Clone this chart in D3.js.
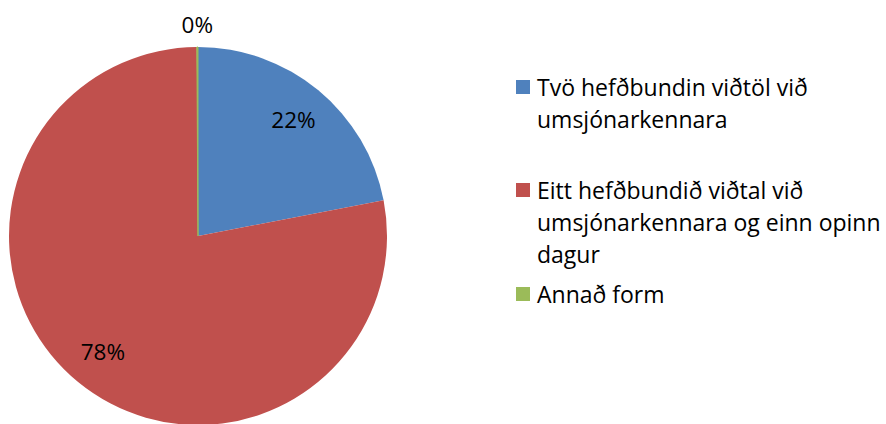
<!DOCTYPE html>
<html>
<head>
<meta charset="utf-8">
<script src="https://cdn.jsdelivr.net/npm/d3@7"></script>
<style>
  body { margin: 0; background: #fff; }
  text { font-family: 'Open Sans', sans-serif; fill: #000; }
</style>
</head>
<body>
<script>
const width = 886;
const height = 424;

// data
const categories = [
  'Tvö hefðbundin viðtöl við umsjónarkennara',
  'Eitt hefðbundið viðtal við umsjónarkennara og einn opinn dagur',
  'Annað form'
];
const legendLines = [
  ['Tvö hefðbundin viðtöl við', 'umsjónarkennara'],
  ['Eitt hefðbundið viðtal við', 'umsjónarkennara og einn opinn', 'dagur'],
  ['Annað form']
];
const values = [22, 78, 0.1];
const colors = ['#4F81BD', '#C0504D', '#9BBB59'];

const cx = 198;
const cy = 236;
const radius = 189;

const svg = d3.select('body').append('svg')
  .attr('width', width)
  .attr('height', height);

const pie = d3.pie().sort(null).value(d => d);
const arcs = pie(values);
const total = d3.sum(values);

const arc = d3.arc().innerRadius(0).outerRadius(radius);
const labelArc = d3.arc().innerRadius(150).outerRadius(150);

const g = svg.append('g')
  .attr('transform', `translate(${cx},${cy})`);

g.selectAll('path')
  .data(arcs)
  .enter().append('path')
    .attr('d', arc)
    .style('fill', (d, i) => colors[i])
    .style('stroke', (d, i) => i === 2 ? colors[i] : 'none')
    .style('stroke-width', 1);

// slice labels; the tiny slice gets its label outside
g.selectAll('text')
  .data(arcs)
  .enter().append('text')
    .attr('transform', (d, i) => {
      if (i === 2) {
        const a = (d.startAngle + d.endAngle) / 2;
        return `translate(${Math.sin(a) * 211},${-Math.cos(a) * 211})`;
      }
      return `translate(${labelArc.centroid(d)})`;
    })
    .attr('text-anchor', 'middle')
    .attr('dy', '0.35em')
    .style('font-size', '22.5px')
    .text(d => Math.round(d.value / total * 100) + '%');

// legend
const legendTop = [80, 183, 287];
const lineHeight = 32;

const legend = svg.append('g')
  .selectAll('g')
  .data(categories)
  .enter().append('g')
    .attr('transform', (d, i) => `translate(516,${legendTop[i]})`);

legend.append('rect')
  .attr('width', 14)
  .attr('height', 14)
  .style('fill', (d, i) => colors[i]);

legend.append('text')
  .attr('x', 21)
  .attr('y', 16)
  .style('font-size', '23px')
  .selectAll('tspan')
  .data((d, i) => legendLines[i])
  .enter().append('tspan')
    .attr('x', 21)
    .attr('dy', (d, j) => j === 0 ? 0 : lineHeight)
    .text(d => d);
</script>
</body>
</html>
